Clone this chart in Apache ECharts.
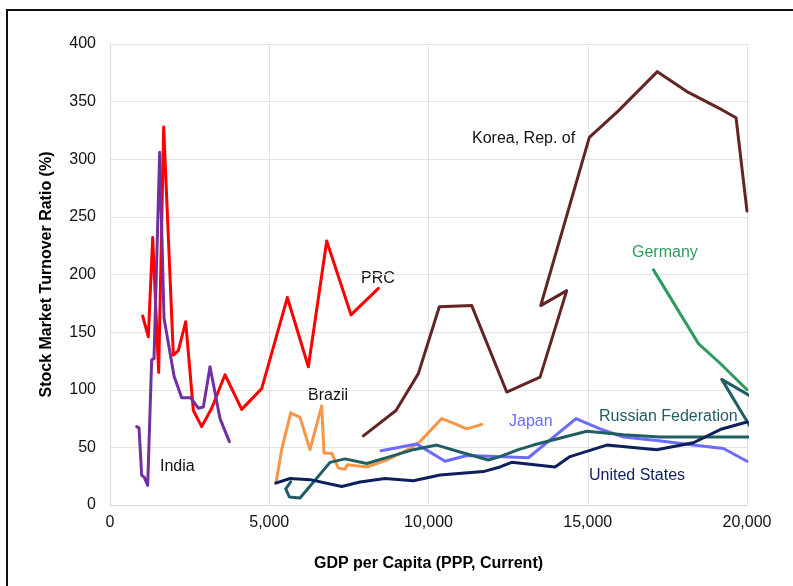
<!DOCTYPE html>
<html><head><meta charset="utf-8">
<script src="https://cdn.jsdelivr.net/npm/echarts@6/dist/echarts.min.js"></script>
<style>
html,body{margin:0;padding:0;width:793px;height:586px;overflow:hidden;background:#fff;}
#frame{position:absolute;left:6px;top:9px;width:900px;height:700px;border:2px solid #111;box-sizing:border-box;}
#chart{position:absolute;left:0;top:0;width:793px;height:586px;}
</style></head>
<body>
<div id="frame"></div>
<div id="chart"></div>
<script>
const xTicks = [0, 5000, 10000, 15000, 20000];
const yTicks = [0, 50, 100, 150, 200, 250, 300, 350, 400];

const prcX = [1026,1204,1340,1528,1686,1989,2146,2376,2617,2879,3193,3611,4135,4763,5568,6228,6804,7567,8426];
const prcY = [164,146,232,115,328,130,134,159,82,68,84,113,83,101,180,120,229,165,188];

const indiaX = [837,911,994,1078,1183,1308,1382,1560,1696,1853,2010,2250,2533,2774,2931,3140,3454,3748];
const indiaY = [68,67,26,24,17,126,127,306,162,137,112,93,93,84,85,120,75,55];

const brazilX = [5212,5390,5673,5966,6280,6647,6720,6961,7170,7379,7452,8060,8688,9420,9734,10415,10780,11200,11671];
const brazilY = [19,48,80,76,48,86,45,45,32,31,35,33,39,49,55,75,71,66,70];

const koreaX = [7955,8980,9681,10340,11357,12456,13502,14340,13523,15050,15961,17185,18160,19207,19656,20000];
const koreaY = [60,82,114,172,173,98,111,186,173,319,342,376,358,343,336,255];

const germanyX = [17064,18475,19155,20000];
const germanyY = [204,140,123,100];

const russiaX = [5674,5517,5630,5966,6908,7379,8060,8792,9524,10258,10990,11880,12246,12820,13293,14970,16120,17270,18526,20000,21000,21000,19207,20600];
const russiaY = [20,14,7,6,37,40,36,42,48,52,46,39,42,48,52,64,61,59,59,59,59,80,109,45];

const usX = [5203,5652,6280,7275,7850,8635,9524,10362,11722,12246,12613,13973,14444,15596,17165,18317,19207,20000];
const usY = [19,23,22,16,20,23,21,26,29,33,37,33,42,52,48,54,66,72];

const japanX = [8510,9630,10519,11200,12142,13136,14632,15386,16120,17165,18317,19260,20000];
const japanY = [47,53,38,43,42,41,75,66,59,56,52,49,38];

const countries = ['India','PRC','Brazil','Korea, Rep. of','Germany','Japan','Russian Federation','United States'];

function pts(xs, ys){ return xs.map((x,i)=>[x, ys[i]]); }

const font = 'Liberation Sans, Arial, sans-serif';
function line(name, xs, ys, color){
  return {name, type:'line', data:pts(xs,ys), showSymbol:false, symbol:'none', clip:true,
    lineStyle:{color, width:3, join:'round', cap:'round'}, itemStyle:{color}, animation:false};
}

const chart = echarts.init(document.getElementById('chart'), null, {renderer:'canvas'});
const labelStyle = (c)=>({fontFamily:font, fontSize:16, fill:c});
chart.setOption({
  animation:false,
  grid:{left:110, top:44, right:46, bottom:81, containLabel:false},
  xAxis:{type:'value', min:xTicks[0], max:xTicks[xTicks.length-1], interval:5000,
    name:'GDP per Capita (PPP, Current)', nameLocation:'middle', nameGap:51,
    nameTextStyle:{fontFamily:font, fontSize:16, fontWeight:'bold', color:'#000'},
    axisLine:{show:true, lineStyle:{color:'#d9d9d9', width:1}}, axisTick:{show:false},
    axisLabel:{fontFamily:font, fontSize:16, color:'#111', margin:10,
      formatter:v=>v.toLocaleString('en-US')},
    splitLine:{show:true, lineStyle:{color:'#e3e3e3', width:1}}},
  yAxis:{type:'value', min:yTicks[0], max:yTicks[yTicks.length-1], interval:50,
    name:'Stock Market Turnover Ratio (%)', nameLocation:'middle', nameGap:55,
    nameTextStyle:{fontFamily:font, fontSize:16, fontWeight:'bold', color:'#000'},
    axisLine:{show:true, lineStyle:{color:'#d9d9d9', width:1}}, axisTick:{show:false},
    axisLabel:{fontFamily:font, fontSize:16, color:'#111', margin:14},
    splitLine:{show:true, lineStyle:{color:'#e3e3e3', width:1}}},
  series:[
    line(countries[3], koreaX, koreaY, '#632523'),
    line(countries[4], germanyX, germanyY, '#2e9b5f'),
    line(countries[2], brazilX, brazilY, '#f79646'),
    line(countries[5], japanX, japanY, '#6b6bff'),
    line(countries[6], russiaX, russiaY, '#215e63'),
    line(countries[7], usX, usY, '#0d1f5c'),
    line(countries[1], prcX, prcY, '#ff0000'),
    line(countries[0], indiaX, indiaY, '#7030a0')
  ],
  graphic:[
    {type:'text', left:160, top:459, style:{text:countries[0], ...labelStyle('#111')}},
    {type:'text', left:361, top:271, style:{text:countries[1], ...labelStyle('#111')}},
    {type:'text', left:308, top:388, style:{text:countries[2], ...labelStyle('#111')}},
    {type:'text', left:472, top:131, style:{text:countries[3], ...labelStyle('#111')}},
    {type:'text', left:632, top:245, style:{text:countries[4], ...labelStyle('#2e9b5f')}},
    {type:'text', left:509, top:414, style:{text:countries[5], ...labelStyle('#6b6bff')}},
    {type:'text', left:599, top:409, style:{text:countries[6], ...labelStyle('#215e63')}},
    {type:'text', left:589, top:468, style:{text:countries[7], ...labelStyle('#0d1f5c')}}
  ]
});
</script>
</body></html>
